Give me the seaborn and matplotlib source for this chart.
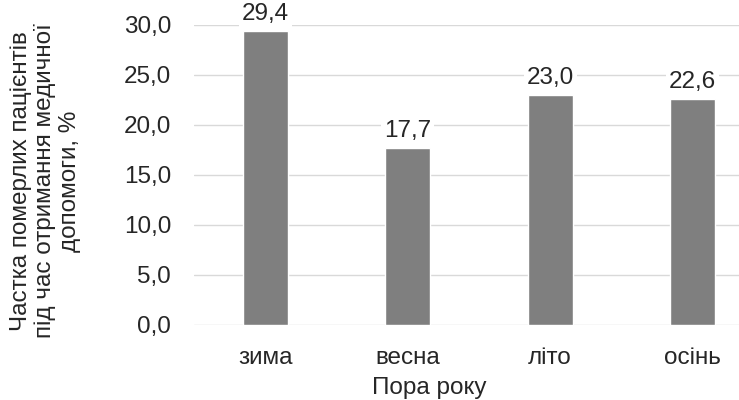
import matplotlib
matplotlib.use("Agg")
import matplotlib.pyplot as plt
import seaborn as sns
import pandas as pd

# Seasonal share of patients who died while receiving care
seasons = ["зима", "весна", "літо", "осінь"]
shares = [29.4, 17.7, 23.0, 22.6]
y_ticks = [0, 5, 10, 15, 20, 25, 30]

x_title = "Пора року"
y_title = "Частка померлих пацієнтів\nпід час отримання медичної\nдопомоги, %"

sns.set_theme(style="white")
plt.rcParams["font.family"] = ["Liberation Sans", "DejaVu Sans"]
text_color = "#262626"
grid_color = "#d9d9d9"

df = pd.DataFrame({"season": seasons, "share": shares})

fig = plt.figure(figsize=(7.39, 4.0), dpi=100)
ax = fig.add_axes([194 / 739, 1 - 325 / 400, 1 - 194 / 739, 300.5 / 400])

sns.barplot(data=df, x="season", y="share", color="#7f7f7f", saturation=1,
            width=0.315, ax=ax, zorder=2)

ax.set_ylim(0, 30)
ax.set_xlim(-0.5, 3.326)
ax.set_yticks(y_ticks)
ax.set_yticklabels([f"{v:.1f}".replace(".", ",") for v in y_ticks])

ax.grid(axis="y", color=grid_color, linewidth=1.0, zorder=0)
ax.grid(axis="x", visible=False)
ax.set_axisbelow(True)
for side in ["top", "right", "left", "bottom"]:
    ax.spines[side].set_visible(False)

ax.tick_params(axis="y", length=0, pad=16.5, labelsize=17.5, labelcolor=text_color)
ax.tick_params(axis="x", length=0, pad=16, labelsize=17.5, labelcolor=text_color)

ax.bar_label(ax.containers[0],
             labels=[f"{v:.1f}".replace(".", ",") for v in shares],
             padding=4, fontsize=17.5, color=text_color,
             bbox=dict(boxstyle="square,pad=0.12", facecolor="white",
                       edgecolor="none"))

ax.set_xlabel(x_title, fontsize=17.5, color=text_color, va="center")
ax.xaxis.set_label_coords(429 / 739, 1 - 388 / 400, transform=fig.transFigure)

ax.set_ylabel(y_title, fontsize=17.5, color=text_color, va="center",
              ha="center", multialignment="center", linespacing=1.15)
ax.yaxis.set_label_coords(45.5 / 739, 1 - 181 / 400, transform=fig.transFigure)

fig.savefig("out.png", dpi=100)
